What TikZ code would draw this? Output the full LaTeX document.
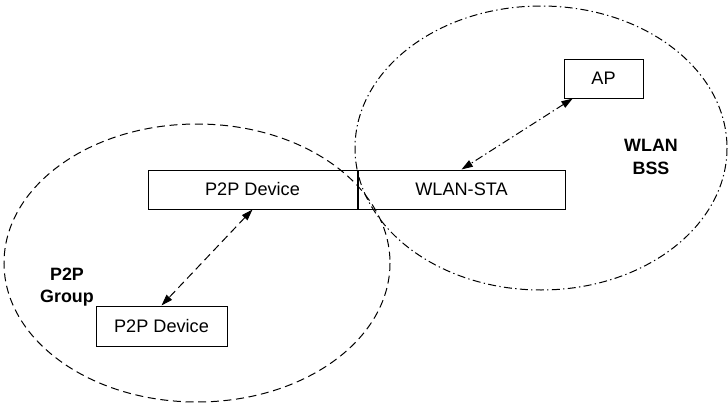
\documentclass[tikz,border=0pt]{standalone}
\usepackage{fontspec}
\setmainfont{Liberation Sans}
\usetikzlibrary{arrows.meta,positioning}

\tikzset{every picture/.style={line width=0.75pt}}
\tikzset{
	devbox/.style={draw, rectangle, inner sep=0pt, minimum height=29.25pt, font=\fontsize{13.6}{16}\selectfont},
	grplbl/.style={font=\fontsize{13.4}{17}\selectfont\bfseries, align=center},
	p2pline/.style={dash pattern=on 6pt off 3.5pt},
	bssline/.style={dash pattern=on 6pt off 2.5pt on 1pt off 2.5pt},
	linktip/.style={{Triangle[length=8.5pt,width=5.5pt]}-{Triangle[length=8.5pt,width=5.5pt]}}
}

\begin{document}
\begin{tikzpicture}[x=0.75pt,y=0.75pt,yscale=-1,xscale=1]
	\useasboundingbox (0,0) rectangle (728,414);

	%Ellipses
	\draw [p2pline] (197,263) ellipse [x radius=193, y radius=139];
	\draw [bssline] (541,148) ellipse [x radius=186, y radius=142];

	% Device boxes
	\node [devbox, minimum width=156.75pt] (p2pA) at (252.5,189.5) {P2P Device};
	\node [devbox, minimum width=155.25pt, right=0pt of p2pA] (sta) {WLAN-STA};
	\node [devbox, minimum width=59.25pt] (ap) at (603.5,78.5) {AP};
	\node [devbox, minimum width=98.25pt, minimum height=30pt] (p2pB) at (161.5,326) {P2P Device};

	% Links
	\draw [p2pline, linktip] (p2pA.south) -- (p2pB.north);
	\draw [bssline, linktip] (ap.213) -- (sta.north);

	% Text Node
	\node [grplbl] (grp) at (67,287) {P2P\\Group};
	% Text Node
	\node [grplbl] (bss) at (651,157) {WLAN\\BSS};

\end{tikzpicture}
\end{document}
